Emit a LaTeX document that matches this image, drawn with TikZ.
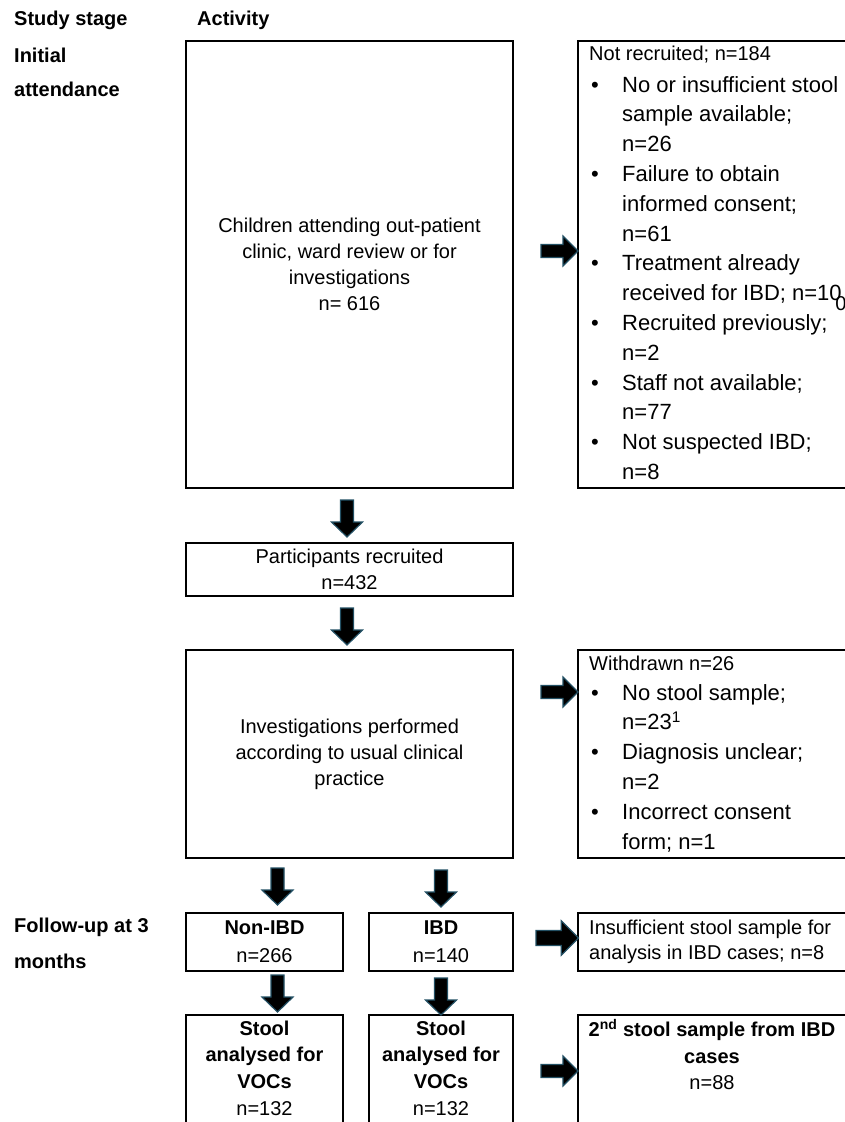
\documentclass[tikz,border=0pt]{standalone}
\usepackage{fontspec}
\setmainfont{Liberation Sans}
\definecolor{arrowedge}{RGB}{35,80,100}
\begin{document}
\begin{tikzpicture}[x=1pt,y=-1pt,
  box/.style={draw, line width=1.2pt, inner sep=0pt},
  arrowstyle/.style={fill=black, draw=arrowedge, line width=1.2pt, line join=miter},
  lbl/.style={inner sep=0pt, anchor=base west},
  f20/.style={font=\fontsize{20}{26}\selectfont},
  hd/.style={lbl, font=\fontsize{20}{24}\selectfont\bfseries},
  listtext/.style={anchor=base west, inner sep=0pt, font=\fontsize{22}{29.8}\selectfont},
  downarr/.pic={\filldraw[arrowstyle] (-6.5,0) -- (6.5,0) -- (6.5,22) -- (15.5,22) -- (0,37) -- (-15.5,22) -- (-6.5,22) -- cycle;},
  rightarr/.pic={\filldraw[arrowstyle] (0,-6.5) -- (22,-6.5) -- (22,-15) -- (37,0) -- (22,15) -- (22,6.5) -- (0,6.5) -- cycle;}
]
\useasboundingbox (0,0) rectangle (845,1122);
\clip (0,0) rectangle (845,1122);
\fill[white] (0,0) rectangle (845,1122);

% left column headings
\node[hd] (hstage) at (14,25.2) {Study stage};
\node[hd] (hact) at (197,25.2) {Activity};
\node[hd] (hinit) at (14,62.2) {Initial};
\node[hd] (hatt) at (14,96.2) {attendance};
\node[hd] (hfol) at (14,932) {Follow-up at 3};
\node[hd] (hmon) at (14,968) {months};

% main column
\node[box, f20, align=center, minimum width=327pt, minimum height=447pt] (b1) at (349.5,264.5)
  {Children attending out-patient\\clinic, ward review or for\\investigations\\n= 616};
\node[box, f20, align=center, minimum width=327pt, minimum height=53pt] (b2) at (349.5,569.5)
  {Participants recruited\\n=432};
\node[box, f20, align=center, minimum width=327pt, minimum height=208pt] (b3) at (349.5,754)
  {Investigations performed\\according to usual clinical\\practice};
\node[box, font=\fontsize{20}{28}\selectfont, align=center, minimum width=157pt, minimum height=58pt] (ni) at (264.5,942)
  {\textbf{Non-IBD}\\n=266};
\node[box, font=\fontsize{20}{28}\selectfont, align=center, minimum width=144pt, minimum height=58pt] (ibd) at (441,942)
  {\textbf{IBD}\\n=140};
\node[box, minimum width=157pt, minimum height=125pt] (s1) at (264.5,1077.5) {};
\node[box, minimum width=144pt, minimum height=125pt] (s2) at (441,1077.5) {};
\node[inner sep=0pt, align=center, font=\fontsize{20}{26.7}\selectfont] (s1t) at (264.5,1068)
  {\textbf{Stool}\\\textbf{analysed for}\\\textbf{VOCs}\\n=132};
\node[inner sep=0pt, align=center, font=\fontsize{20}{26.7}\selectfont] (s2t) at (441,1068)
  {\textbf{Stool}\\\textbf{analysed for}\\\textbf{VOCs}\\n=132};

% right column
\node[box, minimum width=269pt, minimum height=447pt] (r1) at (712.5,264.5) {};
\node[lbl, font=\fontsize{20}{24}\selectfont] (r1h) at (589,60) {Not recruited; n=184};
\node[listtext] (r1l) at (589,92) {\begin{tabular}[t]{@{\hspace{2pt}}p{31pt}@{}l@{}}
\textbullet & No or insufficient stool\\
 & sample available;\\
 & n=26\\
\textbullet & Failure to obtain\\
 & informed consent;\\
 & n=61\\
\textbullet & Treatment already\\
 & received for IBD; n=10\\
\textbullet & Recruited previously;\\
 & n=2\\
\textbullet & Staff not available;\\
 & n=77\\
\textbullet & Not suspected IBD;\\
 & n=8
\end{tabular}};
\node[inner sep=0pt, font=\fontsize{20}{24}\selectfont] (zero) at (841,304) {0};

\node[box, minimum width=269pt, minimum height=208pt] (r2) at (712.5,754) {};
\node[lbl, font=\fontsize{20}{24}\selectfont] (r2h) at (589,670) {Withdrawn n=26};
\node[listtext] (r2l) at (589,700) {\begin{tabular}[t]{@{\hspace{2pt}}p{31pt}@{}l@{}}
\textbullet & No stool sample;\\
 & n=23\textsuperscript{1}\\
\textbullet & Diagnosis unclear;\\
 & n=2\\
\textbullet & Incorrect consent\\
 & form; n=1
\end{tabular}};

\node[box, minimum width=269pt, minimum height=58pt] (r3) at (712.5,942) {};
\node[lbl, font=\fontsize{20}{25}\selectfont] (r3t) at (589,934)
  {\begin{tabular}[t]{@{}l@{}}Insufficient stool sample for\\analysis in IBD cases; n=8\end{tabular}};

\node[box, minimum width=269pt, minimum height=125pt] (r4) at (712.5,1077.5) {};
\node[inner sep=0pt, align=center, font=\fontsize{20}{26.5}\selectfont] (r4t) at (712,1054.5)
  {\textbf{2\textsuperscript{nd} stool sample from IBD}\\\textbf{cases}\\n=88};

% block arrows
\pic at (347,500) {downarr};
\pic at (347,608) {downarr};
\pic at (277.5,868) {downarr};
\pic at (441,870) {downarr};
\pic at (277.5,975) {downarr};
\pic at (441,978) {downarr};
\pic at (541,251) {rightarr};
\pic at (541,692) {rightarr};
\pic[scale=1.15] at (536,938) {rightarr};
\pic at (541,1071) {rightarr};
\end{tikzpicture}
\end{document}
